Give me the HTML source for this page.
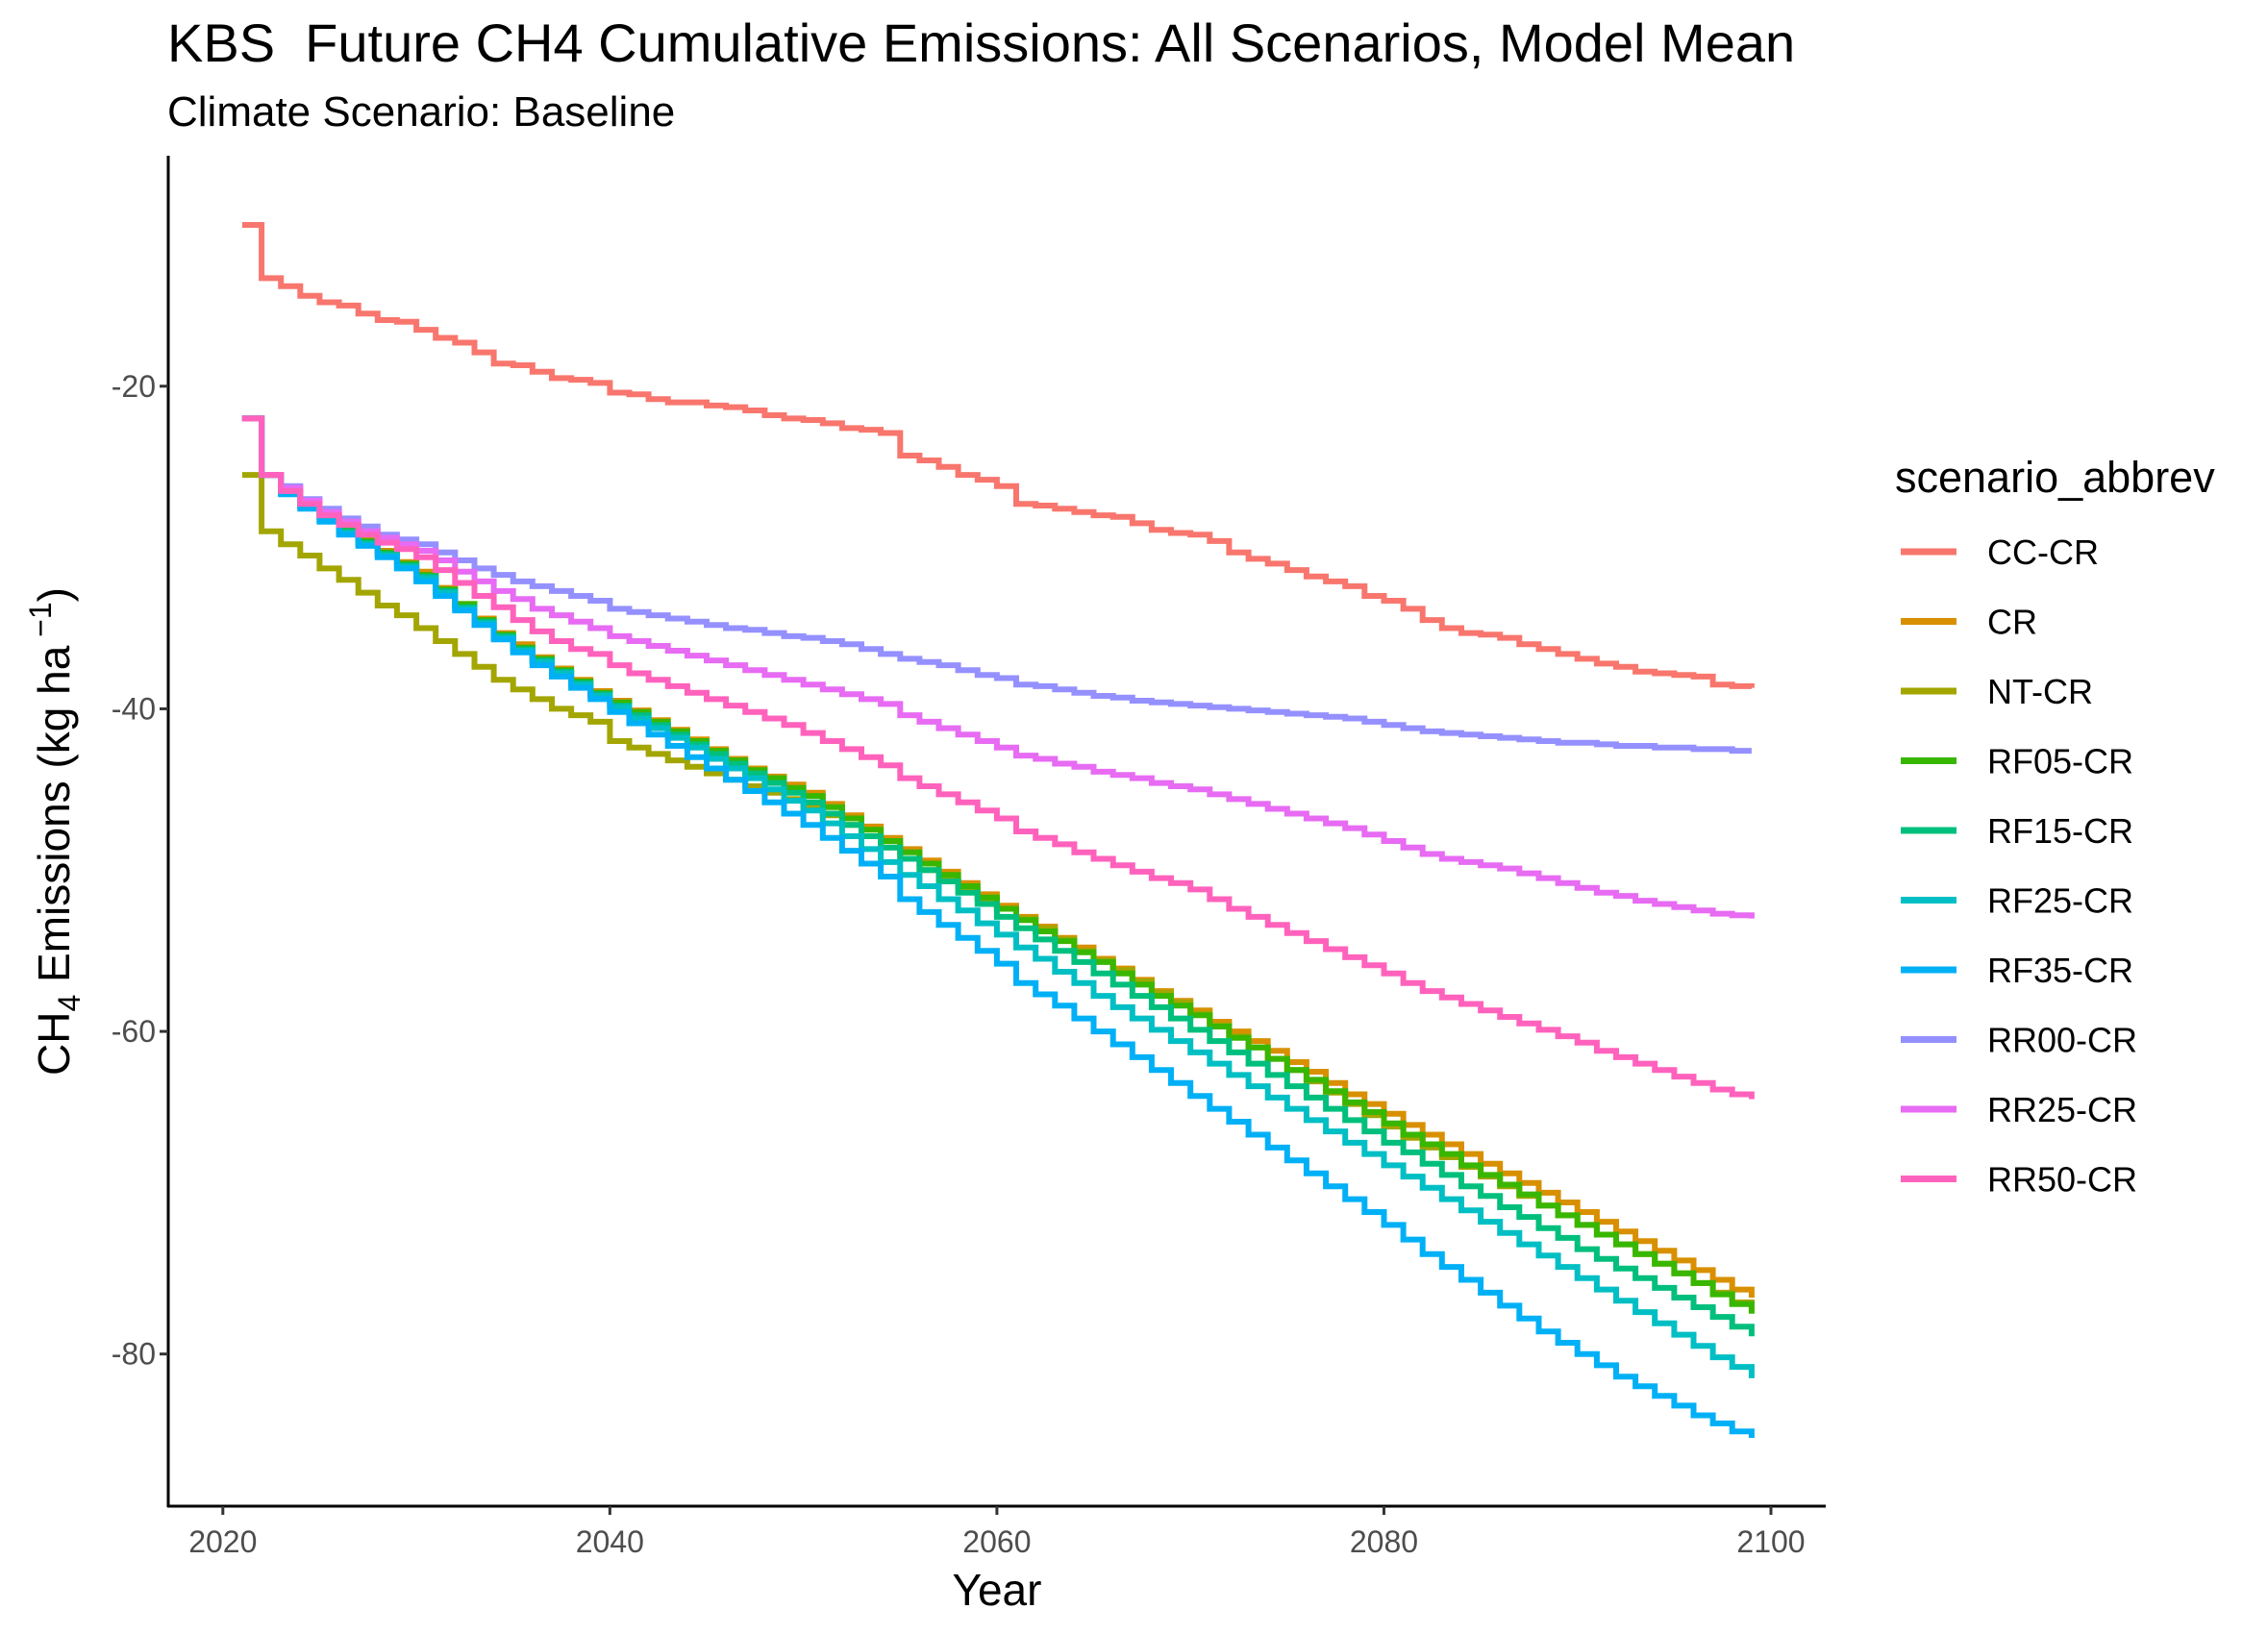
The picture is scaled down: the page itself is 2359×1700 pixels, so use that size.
<!DOCTYPE html>
<html><head><meta charset="utf-8"><style>
html,body{margin:0;padding:0;background:#fff}
svg{display:block}
text{font-family:"Liberation Sans",Arial,sans-serif}
</style></head><body>
<svg id="chart" width="2359" height="1700" viewBox="0 0 2359 1700" xmlns="http://www.w3.org/2000/svg">
<text x="174" y="64" font-size="56" fill="#000">KBS&#160; Future CH4 Cumulative Emissions: All Scenarios, Model Mean</text>
<text x="174" y="131" font-size="44" fill="#000">Climate Scenario: Baseline</text>
<g id="series"></g>
<g id="axes"></g>
<text x="1037" y="1670" font-size="46" text-anchor="middle" fill="#000">Year</text>
<text transform="translate(72,865) rotate(-90)" font-size="46" text-anchor="middle" fill="#000">CH<tspan font-size="32" dy="11">4</tspan><tspan dy="-11"> Emissions (kg ha</tspan><tspan font-size="32" dy="-19"> −1</tspan><tspan dy="19">)</tspan></text>
<g id="legend">
<text x="1971" y="512" font-size="45" fill="#000">scenario_abbrev</text>
</g>
</svg>
<script>
const years = [];
for (let y = 2021; y <= 2099; y++) years.push(y);
const scenarios = ["CC-CR","CR","NT-CR","RF05-CR","RF15-CR","RF25-CR","RF35-CR","RR00-CR","RR25-CR","RR50-CR"];
const colors = ["#F8766D","#D89000","#A3A500","#39B600","#00BF7D","#00BFC4","#00B0F6","#9590FF","#E76BF3","#FF62BC"];
const xTicks = [2020,2040,2060,2080,2100];
const yTicks = [-20,-40,-60,-80];
const ccCR = [-10.0,-13.3,-13.8,-14.4,-14.8,-15.0,-15.5,-15.9,-16.0,-16.5,-17.0,-17.3,-17.9,-18.6,-18.7,-19.1,-19.5,-19.6,-19.8,-20.4,-20.5,-20.8,-21.0,-21.0,-21.2,-21.3,-21.5,-21.8,-22.0,-22.1,-22.3,-22.6,-22.7,-22.9,-24.3,-24.6,-25.0,-25.5,-25.8,-26.2,-27.3,-27.4,-27.6,-27.8,-28.0,-28.1,-28.5,-28.9,-29.1,-29.2,-29.6,-30.3,-30.7,-31.0,-31.4,-31.8,-32.1,-32.4,-33.0,-33.3,-33.8,-34.5,-35.0,-35.3,-35.4,-35.6,-36.0,-36.3,-36.6,-36.9,-37.2,-37.4,-37.7,-37.8,-37.9,-38.0,-38.5,-38.6,-38.7];
const cr = [-22,-25.5,-26.5,-27.3,-28.0,-28.8,-29.5,-30.2,-30.9,-31.5,-32.5,-33.5,-34.4,-35.3,-36.0,-36.8,-37.5,-38.2,-38.9,-39.5,-40.1,-40.7,-41.3,-41.9,-42.5,-43.1,-43.7,-44.2,-44.7,-45.2,-45.9,-46.6,-47.3,-48.0,-48.7,-49.4,-50.1,-50.8,-51.5,-52.2,-52.9,-53.5,-54.2,-54.8,-55.5,-56.1,-56.8,-57.5,-58.1,-58.7,-59.4,-60.0,-60.6,-61.2,-61.9,-62.5,-63.2,-63.9,-64.5,-65.1,-65.8,-66.4,-67.0,-67.6,-68.2,-68.8,-69.4,-70.0,-70.6,-71.2,-71.8,-72.4,-73.0,-73.6,-74.2,-74.8,-75.4,-76.0,-76.5];
const ntCR = [-25.5,-29.0,-29.8,-30.5,-31.3,-32.0,-32.8,-33.6,-34.2,-35.0,-35.8,-36.6,-37.4,-38.2,-38.8,-39.4,-40.0,-40.4,-40.8,-42.0,-42.4,-42.8,-43.2,-43.6,-44.0,-44.4,-44.8,-45.2,-45.6,-46.0,-46.6,-47.2,-47.9,-48.6,-49.3,-50.0,-50.6,-51.2,-51.8,-52.4,-53.0,-53.6,-54.3,-55.0,-55.6,-56.2,-56.9,-57.6,-58.2,-58.9,-59.6,-60.3,-61.0,-61.7,-62.4,-63.1,-63.8,-64.5,-65.2,-65.9,-66.6,-67.2,-67.8,-68.4,-69.0,-69.6,-70.2,-70.8,-71.4,-72.0,-72.6,-73.2,-73.8,-74.4,-75.0,-75.6,-76.2,-76.8,-77.4];
const rf05 = [-22,-25.5,-26.5,-27.3,-28.1,-28.9,-29.6,-30.3,-31.0,-31.7,-32.6,-33.5,-34.5,-35.4,-36.2,-36.9,-37.6,-38.3,-39.0,-39.6,-40.2,-40.8,-41.4,-42.0,-42.6,-43.2,-43.8,-44.3,-44.9,-45.4,-46.1,-46.8,-47.5,-48.2,-48.9,-49.6,-50.3,-51.0,-51.7,-52.4,-53.1,-53.8,-54.4,-55.1,-55.7,-56.4,-57.1,-57.8,-58.4,-59.0,-59.7,-60.4,-61.0,-61.7,-62.4,-63.0,-63.7,-64.4,-65.0,-65.7,-66.4,-67.0,-67.6,-68.3,-68.9,-69.5,-70.1,-70.8,-71.4,-72.0,-72.6,-73.2,-73.8,-74.4,-75.0,-75.6,-76.3,-76.9,-77.5];
const rf15 = [-22,-25.5,-26.6,-27.4,-28.2,-29.0,-29.7,-30.4,-31.1,-31.8,-32.7,-33.7,-34.6,-35.5,-36.3,-37.0,-37.7,-38.4,-39.1,-39.8,-40.4,-41.0,-41.6,-42.2,-42.8,-43.4,-44.0,-44.6,-45.2,-45.8,-46.5,-47.2,-47.9,-48.6,-49.3,-50.0,-50.7,-51.4,-52.1,-52.9,-53.6,-54.3,-55.0,-55.7,-56.4,-57.1,-57.8,-58.5,-59.2,-59.9,-60.6,-61.3,-62.0,-62.7,-63.4,-64.1,-64.8,-65.5,-66.2,-66.9,-67.5,-68.2,-68.9,-69.6,-70.2,-70.9,-71.5,-72.2,-72.8,-73.5,-74.1,-74.7,-75.3,-75.9,-76.5,-77.1,-77.7,-78.3,-78.9];
const rf25 = [-22,-25.5,-26.6,-27.5,-28.3,-29.1,-29.8,-30.5,-31.2,-31.9,-32.8,-33.8,-34.7,-35.6,-36.4,-37.1,-37.8,-38.5,-39.2,-39.9,-40.6,-41.2,-41.8,-42.4,-43.1,-43.7,-44.3,-45.0,-45.7,-46.3,-47.1,-47.9,-48.7,-49.5,-50.3,-51.0,-51.8,-52.5,-53.3,-54.0,-54.8,-55.5,-56.3,-57.0,-57.8,-58.5,-59.2,-59.9,-60.6,-61.3,-62.0,-62.7,-63.4,-64.1,-64.8,-65.5,-66.2,-66.9,-67.6,-68.3,-69.0,-69.7,-70.4,-71.1,-71.8,-72.5,-73.2,-73.9,-74.6,-75.3,-76.0,-76.7,-77.4,-78.1,-78.8,-79.5,-80.2,-80.8,-81.5];
const rf35 = [-22,-25.5,-26.7,-27.6,-28.4,-29.2,-29.9,-30.6,-31.3,-32.1,-33.0,-33.9,-34.8,-35.7,-36.5,-37.3,-38.0,-38.7,-39.4,-40.2,-40.9,-41.6,-42.3,-43.0,-43.7,-44.4,-45.1,-45.8,-46.5,-47.2,-48.0,-48.8,-49.6,-50.4,-51.8,-52.6,-53.4,-54.2,-55.0,-55.8,-57.0,-57.7,-58.4,-59.2,-60.0,-60.8,-61.6,-62.4,-63.2,-64.0,-64.8,-65.6,-66.4,-67.2,-68.0,-68.8,-69.6,-70.4,-71.2,-72.0,-72.9,-73.8,-74.6,-75.4,-76.2,-77.0,-77.8,-78.6,-79.3,-80.0,-80.7,-81.4,-82.0,-82.6,-83.2,-83.8,-84.3,-84.8,-85.2];
const rr00 = [-22,-25.5,-26.2,-27.0,-27.6,-28.2,-28.7,-29.2,-29.5,-29.8,-30.3,-30.8,-31.3,-31.7,-32.1,-32.4,-32.7,-33.0,-33.3,-33.8,-34.0,-34.2,-34.4,-34.6,-34.8,-35.0,-35.1,-35.3,-35.5,-35.6,-35.8,-36.0,-36.3,-36.6,-36.9,-37.1,-37.3,-37.6,-37.9,-38.1,-38.5,-38.6,-38.8,-39.0,-39.2,-39.3,-39.5,-39.6,-39.7,-39.8,-39.9,-40.0,-40.1,-40.2,-40.3,-40.4,-40.5,-40.6,-40.8,-41.0,-41.2,-41.4,-41.5,-41.6,-41.7,-41.8,-41.9,-42.0,-42.1,-42.1,-42.2,-42.3,-42.3,-42.4,-42.4,-42.5,-42.5,-42.6,-42.6];
const rr25 = [-22,-25.5,-26.3,-27.1,-27.8,-28.4,-29.0,-29.4,-29.8,-30.2,-30.8,-31.5,-32.1,-32.7,-33.2,-33.8,-34.2,-34.6,-35.0,-35.5,-35.8,-36.1,-36.4,-36.7,-37.0,-37.3,-37.6,-37.9,-38.2,-38.5,-38.8,-39.1,-39.4,-39.7,-40.4,-40.8,-41.2,-41.6,-42.0,-42.4,-42.9,-43.1,-43.4,-43.6,-43.9,-44.1,-44.3,-44.6,-44.8,-45.0,-45.3,-45.6,-45.9,-46.2,-46.5,-46.8,-47.1,-47.4,-47.8,-48.2,-48.6,-49.0,-49.3,-49.5,-49.7,-49.9,-50.2,-50.5,-50.8,-51.1,-51.4,-51.6,-51.9,-52.1,-52.3,-52.5,-52.7,-52.8,-53.0];
const rr50 = [-22,-25.5,-26.5,-27.3,-28.0,-28.6,-29.2,-29.7,-30.1,-30.6,-31.4,-32.2,-33.0,-33.7,-34.5,-35.2,-35.8,-36.3,-36.6,-37.3,-37.8,-38.2,-38.6,-39.0,-39.4,-39.8,-40.2,-40.6,-41.0,-41.5,-42.0,-42.5,-43.0,-43.5,-44.3,-44.8,-45.3,-45.8,-46.3,-46.8,-47.6,-48.0,-48.4,-48.9,-49.3,-49.7,-50.1,-50.5,-50.8,-51.2,-51.8,-52.4,-52.9,-53.4,-53.9,-54.4,-54.9,-55.4,-55.9,-56.4,-57.0,-57.5,-57.9,-58.3,-58.7,-59.1,-59.5,-59.9,-60.3,-60.7,-61.2,-61.6,-62.0,-62.4,-62.8,-63.2,-63.6,-63.9,-64.2];
const seriesValues = [ccCR, cr, ntCR, rf05, rf15, rf25, rf35, rr00, rr25, rr50];

const NS = "http://www.w3.org/2000/svg";
const X0 = 2020, X1 = 2100, PX0 = 231.8, PX1 = 1842;
const Y0 = -20, Y1 = -80, PY0 = 401.8, PY1 = 1408.7;
function xs(v){ return PX0 + (v - X0) * (PX1 - PX0) / (X1 - X0); }
function ys(v){ return PY0 + (v - Y0) * (PY1 - PY0) / (Y1 - Y0); }

const sg = document.getElementById('series');
seriesValues.forEach((vals, i) => {
  let d = "M" + xs(years[0]).toFixed(1) + "," + ys(vals[0]).toFixed(1);
  for (let k = 1; k < vals.length; k++) {
    d += " H" + xs(years[k]).toFixed(1) + " V" + ys(vals[k]).toFixed(1);
  }
  const p = document.createElementNS(NS, 'path');
  p.setAttribute('d', d);
  p.setAttribute('fill', 'none');
  p.setAttribute('stroke', colors[i]);
  p.setAttribute('stroke-width', '6');
  p.setAttribute('stroke-linejoin', 'miter');
  
  
  p.setAttribute('data-series', scenarios[i]);
  sg.appendChild(p);
});

const ag = document.getElementById('axes');
function add(tag, attrs, text){
  const e = document.createElementNS(NS, tag);
  for (const k in attrs) e.setAttribute(k, attrs[k]);
  if (text !== undefined) e.textContent = text;
  ag.appendChild(e);
  return e;
}
const yAxis = add('line', {x1:175, y1:162, x2:175, y2:1568, stroke:'#000', 'stroke-width':3});


const xAxis = add('line', {x1:174, y1:1567, x2:1899, y2:1567, stroke:'#000', 'stroke-width':3});


xTicks.forEach(t => {
  const tk = add('line', {x1:xs(t), y1:1567, x2:xs(t), y2:1576, stroke:'#333', 'stroke-width':3});
  
  
  const lb = add('text', {x:xs(t), y:1615, 'font-size':32, 'text-anchor':'middle', fill:'#4d4d4d'}, String(t));
  
  
});
yTicks.forEach(t => {
  const tk = add('line', {x1:166, y1:ys(t), x2:175, y2:ys(t), stroke:'#333', 'stroke-width':3});
  
  
  const lb = add('text', {x:162, y:ys(t)+11, 'font-size':32, 'text-anchor':'end', fill:'#4d4d4d'}, String(t));
  
  
});

const lg = document.getElementById('legend');
scenarios.forEach((s, i) => {
  const cy = 574 + i * 72.5;
  const ln = document.createElementNS(NS, 'line');
  ln.setAttribute('x1', 1977); ln.setAttribute('x2', 2035);
  ln.setAttribute('y1', cy); ln.setAttribute('y2', cy);
  ln.setAttribute('stroke', colors[i]); ln.setAttribute('stroke-width', 7);
  
  
  lg.appendChild(ln);
  const tx = document.createElementNS(NS, 'text');
  tx.setAttribute('x', 2067); tx.setAttribute('y', cy + 13);
  tx.setAttribute('font-size', 36); tx.setAttribute('fill', '#000');
  tx.textContent = s;
  
  
  lg.appendChild(tx);
});
</script>
</body></html>
